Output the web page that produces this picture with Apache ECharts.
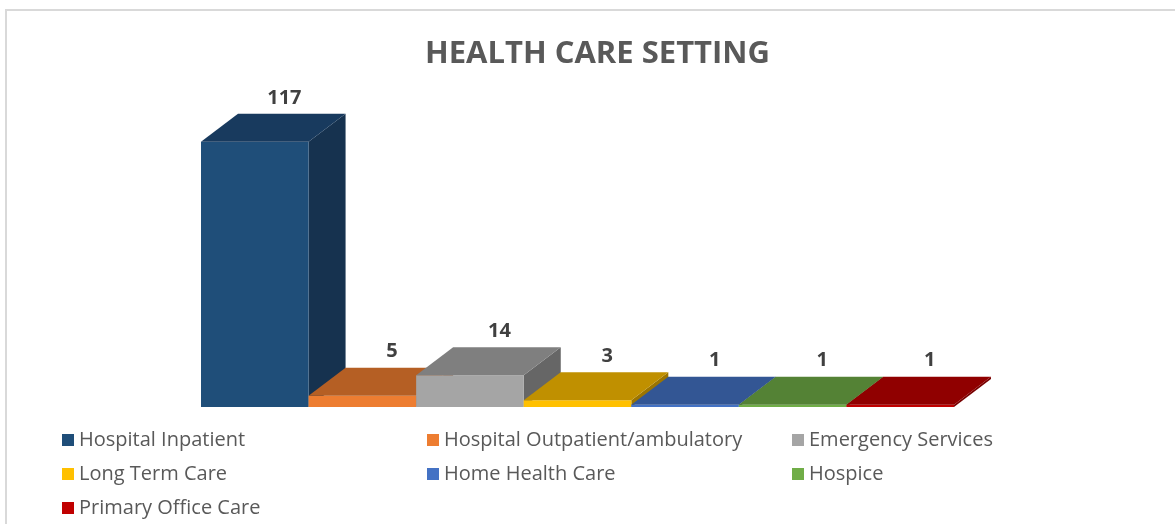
<!DOCTYPE html>
<html>
<head>
<meta charset="utf-8">
<script src="https://cdn.jsdelivr.net/npm/echarts@6/dist/echarts.min.js"></script>
<style>
  html, body { margin: 0; padding: 0; background: #ffffff; }
  #chart { width: 1175px; height: 524px; }
</style>
</head>
<body>
<div id="chart"></div>
<script>
const categories = [
  "Hospital Inpatient",
  "Hospital Outpatient/ambulatory",
  "Emergency Services",
  "Long Term Care",
  "Home Health Care",
  "Hospice",
  "Primary Office Care"
];
const counts = [117, 5, 14, 3, 1, 1, 1];

// front / top / side shades per category
const frontColors = ["#1F4E79", "#ED7D31", "#A5A5A5", "#FFC000", "#4472C4", "#70AD47", "#C00000"];
const topColors = ["#183A5E", "#B55F24", "#7F7F7F", "#C09000", "#335694", "#548235", "#900000"];
const sideColors = ["#16324F", "#9A5020", "#666666", "#9C7500", "#2B4A80", "#46702C", "#780000"];

const chart = echarts.init(document.getElementById("chart"));

function renderBar3d(params, api) {
  const idx = api.value(0);
  const v = api.value(1);
  const base = api.coord([idx, 0]);
  const top = api.coord([idx, v]);
  const w = api.size([1, 0])[0];
  const x0 = base[0] - w / 2;
  const x1 = base[0] + w / 2;
  const y0 = base[1];
  const y1 = top[1];
  const dx = w * 0.344;
  const dy = -w * 0.26;
  const s = params.seriesIndex;
  return {
    type: "group",
    children: [
      {
        type: "polygon",
        shape: { points: [[x1, y1], [x1 + dx, y1 + dy], [x1 + dx, y0 + dy], [x1, y0]] },
        style: { fill: sideColors[s] }
      },
      {
        type: "polygon",
        shape: { points: [[x0, y0], [x0, y1], [x1, y1], [x1, y0]] },
        style: { fill: frontColors[s] }
      },
      {
        type: "polygon",
        shape: { points: [[x0, y1], [x0 + dx, y1 + dy], [x1 + dx, y1 + dy], [x1, y1]] },
        style: { fill: topColors[s] }
      },
      {
        type: "text",
        x: base[0] + dx * 0.8,
        y: y1 + dy - 16,
        style: {
          text: String(v),
          fill: "#404040",
          font: "bold 20px 'Open Sans', sans-serif",
          align: "center",
          verticalAlign: "middle"
        }
      }
    ]
  };
}

chart.setOption({
  animation: false,
  backgroundColor: "#ffffff",
  title: {
    text: "HEALTH CARE SETTING",
    left: 425,
    top: 39,
    padding: 0,
    textStyle: { color: "#595959", fontSize: 31, fontWeight: "bold", fontFamily: "'Open Sans', sans-serif" }
  },
  graphic: [
    { type: "line", shape: { x1: 6, y1: 10, x2: 6, y2: 524 }, style: { stroke: "#D9D9D9", lineWidth: 2 } },
    { type: "line", shape: { x1: 5, y1: 10, x2: 1175, y2: 10 }, style: { stroke: "#D9D9D9", lineWidth: 2 } }
  ],
  legend: {
    left: 62,
    top: 423,
    width: 1110,
    padding: 0,
    itemWidth: 12,
    itemHeight: 12,
    itemGap: 0,
    icon: "rect",
    data: categories,
    textStyle: {
      color: "#595959",
      fontSize: 20,
      fontFamily: "'Open Sans', sans-serif",
      width: 348,
      lineHeight: 34,
      height: 34,
      overflow: "truncate"
    }
  },
  grid: { left: 201, right: 221, top: 135, bottom: 117 },
  xAxis: { type: "category", data: categories, show: false },
  yAxis: { type: "value", min: 0, max: 120, show: false },
  series: categories.map((name, i) => ({
    name: name,
    type: "custom",
    color: frontColors[i],
    renderItem: renderBar3d,
    data: [[i, counts[i]]]
  }))
});
</script>
</body>
</html>
